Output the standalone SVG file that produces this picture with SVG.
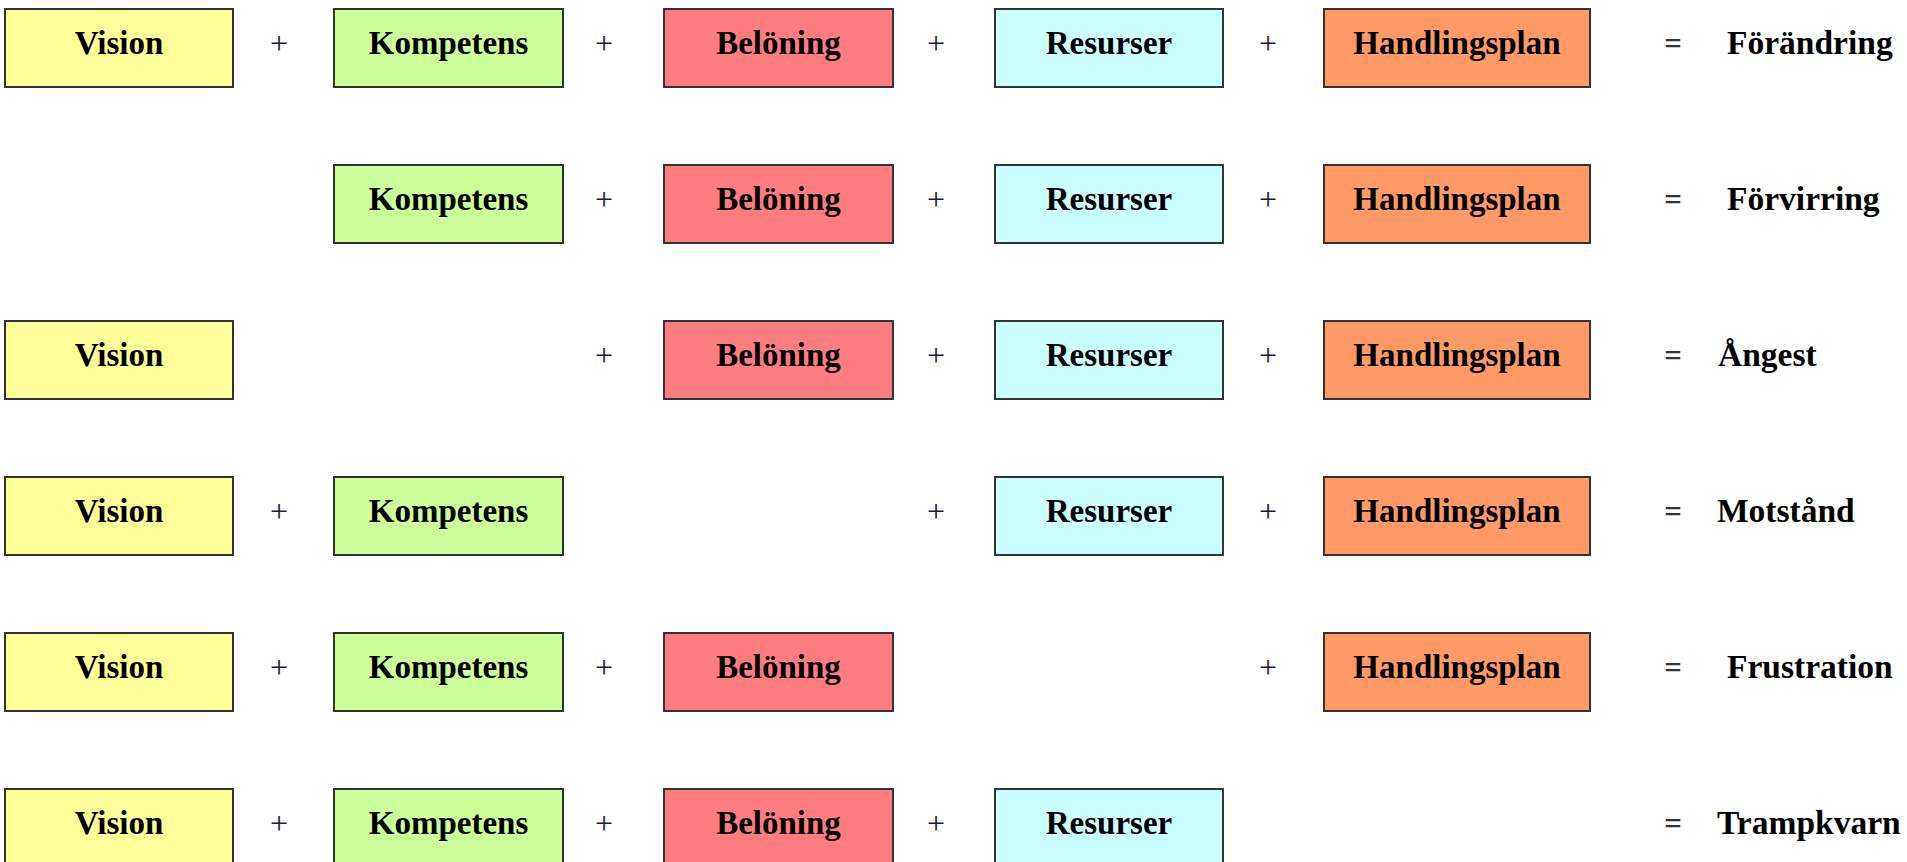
<svg xmlns="http://www.w3.org/2000/svg" width="1907" height="862" viewBox="0 0 1907 862">
<style>
  .box { stroke: #333333; stroke-width: 2; }
  .v { fill: #FFFF99; }
  .k { fill: #CCFF99; }
  .b { fill: #FF7C80; }
  .r { fill: #CCFFFF; }
  .h { fill: #FF9966; }
  .lbl { font-family: "Liberation Serif", "Times New Roman", serif; font-weight: bold; font-size: 33px; fill: #000; text-anchor: middle; }
  .op { font-family: "Liberation Serif", "Times New Roman", serif; font-size: 32px; fill: #1a1a33; text-anchor: middle; }
  .eq { font-family: "Liberation Serif", "Times New Roman", serif; font-weight: bold; font-size: 31px; fill: #333; text-anchor: middle; }
  .res { font-family: "Liberation Serif", "Times New Roman", serif; font-weight: bold; font-size: 33.5px; fill: #000; }
</style>
<rect width="1907" height="862" fill="#ffffff"/>

<!-- Row 1 -->
<g id="row1" transform="translate(0,9)">
  <g id="r1-vision"><rect class="box v" x="5" y="0" width="228" height="78"/><text class="lbl" x="119" y="45">Vision</text></g>
  <text class="op" x="279" y="45">+</text>
  <g id="r1-kompetens"><rect class="box k" x="334" y="0" width="229" height="78"/><text class="lbl" x="448.5" y="45">Kompetens</text></g>
  <text class="op" x="604" y="45">+</text>
  <g id="r1-beloning"><rect class="box b" x="664" y="0" width="229" height="78"/><text class="lbl" x="778.5" y="45">Belöning</text></g>
  <text class="op" x="936" y="45">+</text>
  <g id="r1-resurser"><rect class="box r" x="995" y="0" width="228" height="78"/><text class="lbl" x="1109" y="45">Resurser</text></g>
  <text class="op" x="1268" y="45">+</text>
  <g id="r1-handlingsplan"><rect class="box h" x="1324" y="0" width="266" height="78"/><text class="lbl" x="1457" y="45">Handlingsplan</text></g>
  <text class="eq" x="1673" y="45">=</text>
  <text class="res" x="1727" y="45">Förändring</text>
</g>

<!-- Row 2 -->
<g id="row2" transform="translate(0,165)">
  <g id="r2-kompetens"><rect class="box k" x="334" y="0" width="229" height="78"/><text class="lbl" x="448.5" y="45">Kompetens</text></g>
  <text class="op" x="604" y="45">+</text>
  <g id="r2-beloning"><rect class="box b" x="664" y="0" width="229" height="78"/><text class="lbl" x="778.5" y="45">Belöning</text></g>
  <text class="op" x="936" y="45">+</text>
  <g id="r2-resurser"><rect class="box r" x="995" y="0" width="228" height="78"/><text class="lbl" x="1109" y="45">Resurser</text></g>
  <text class="op" x="1268" y="45">+</text>
  <g id="r2-handlingsplan"><rect class="box h" x="1324" y="0" width="266" height="78"/><text class="lbl" x="1457" y="45">Handlingsplan</text></g>
  <text class="eq" x="1673" y="45">=</text>
  <text class="res" x="1727" y="45">Förvirring</text>
</g>

<!-- Row 3 -->
<g id="row3" transform="translate(0,321)">
  <g id="r3-vision"><rect class="box v" x="5" y="0" width="228" height="78"/><text class="lbl" x="119" y="45">Vision</text></g>
  <text class="op" x="604" y="45">+</text>
  <g id="r3-beloning"><rect class="box b" x="664" y="0" width="229" height="78"/><text class="lbl" x="778.5" y="45">Belöning</text></g>
  <text class="op" x="936" y="45">+</text>
  <g id="r3-resurser"><rect class="box r" x="995" y="0" width="228" height="78"/><text class="lbl" x="1109" y="45">Resurser</text></g>
  <text class="op" x="1268" y="45">+</text>
  <g id="r3-handlingsplan"><rect class="box h" x="1324" y="0" width="266" height="78"/><text class="lbl" x="1457" y="45">Handlingsplan</text></g>
  <text class="eq" x="1673" y="45">=</text>
  <text class="res" x="1718" y="45">Ångest</text>
</g>

<!-- Row 4 -->
<g id="row4" transform="translate(0,477)">
  <g id="r4-vision"><rect class="box v" x="5" y="0" width="228" height="78"/><text class="lbl" x="119" y="45">Vision</text></g>
  <text class="op" x="279" y="45">+</text>
  <g id="r4-kompetens"><rect class="box k" x="334" y="0" width="229" height="78"/><text class="lbl" x="448.5" y="45">Kompetens</text></g>
  <text class="op" x="936" y="45">+</text>
  <g id="r4-resurser"><rect class="box r" x="995" y="0" width="228" height="78"/><text class="lbl" x="1109" y="45">Resurser</text></g>
  <text class="op" x="1268" y="45">+</text>
  <g id="r4-handlingsplan"><rect class="box h" x="1324" y="0" width="266" height="78"/><text class="lbl" x="1457" y="45">Handlingsplan</text></g>
  <text class="eq" x="1673" y="45">=</text>
  <text class="res" x="1717" y="45">Motstånd</text>
</g>

<!-- Row 5 -->
<g id="row5" transform="translate(0,633)">
  <g id="r5-vision"><rect class="box v" x="5" y="0" width="228" height="78"/><text class="lbl" x="119" y="45">Vision</text></g>
  <text class="op" x="279" y="45">+</text>
  <g id="r5-kompetens"><rect class="box k" x="334" y="0" width="229" height="78"/><text class="lbl" x="448.5" y="45">Kompetens</text></g>
  <text class="op" x="604" y="45">+</text>
  <g id="r5-beloning"><rect class="box b" x="664" y="0" width="229" height="78"/><text class="lbl" x="778.5" y="45">Belöning</text></g>
  <text class="op" x="1268" y="45">+</text>
  <g id="r5-handlingsplan"><rect class="box h" x="1324" y="0" width="266" height="78"/><text class="lbl" x="1457" y="45">Handlingsplan</text></g>
  <text class="eq" x="1673" y="45">=</text>
  <text class="res" x="1727" y="45">Frustration</text>
</g>

<!-- Row 6 -->
<g id="row6" transform="translate(0,789)">
  <g id="r6-vision"><rect class="box v" x="5" y="0" width="228" height="78"/><text class="lbl" x="119" y="45">Vision</text></g>
  <text class="op" x="279" y="45">+</text>
  <g id="r6-kompetens"><rect class="box k" x="334" y="0" width="229" height="78"/><text class="lbl" x="448.5" y="45">Kompetens</text></g>
  <text class="op" x="604" y="45">+</text>
  <g id="r6-beloning"><rect class="box b" x="664" y="0" width="229" height="78"/><text class="lbl" x="778.5" y="45">Belöning</text></g>
  <text class="op" x="936" y="45">+</text>
  <g id="r6-resurser"><rect class="box r" x="995" y="0" width="228" height="78"/><text class="lbl" x="1109" y="45">Resurser</text></g>
  <text class="eq" x="1673" y="45">=</text>
  <text class="res" x="1717" y="45">Trampkvarn</text>
</g>

<g id="connectors"></g>
</svg>
